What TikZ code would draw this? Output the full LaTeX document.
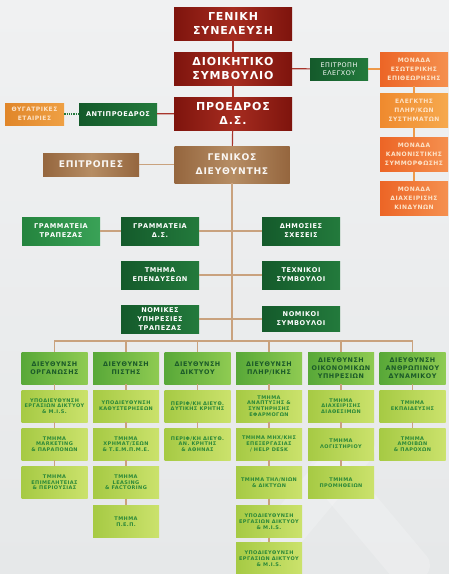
\documentclass[tikz,border=0pt]{standalone}
\usepackage{fontspec}
\setmainfont{DejaVu Sans}
\newfontfamily\wfont[LetterSpace=8]{DejaVu Sans}
\definecolor{redD}{HTML}{7E140D}
\definecolor{redL}{HTML}{A62C20}
\definecolor{tanD}{HTML}{95663E}
\definecolor{tanL}{HTML}{B68D64}
\definecolor{grD}{HTML}{145A2B}
\definecolor{grL}{HTML}{237A3C}
\definecolor{grTD}{HTML}{24843E}
\definecolor{grTL}{HTML}{3AA257}
\definecolor{orD}{HTML}{EC6526}
\definecolor{orL}{HTML}{F5904F}
\definecolor{orYD}{HTML}{EF8A2E}
\definecolor{orYL}{HTML}{F6A94E}
\definecolor{orTD}{HTML}{E0862A}
\definecolor{orTL}{HTML}{EFA044}
\definecolor{orText}{HTML}{FDE3C8}
\definecolor{hgD}{HTML}{58A838}
\definecolor{hgL}{HTML}{8FCB52}
\definecolor{limD}{HTML}{A6CA44}
\definecolor{limL}{HTML}{CBE26C}
\definecolor{hgText}{HTML}{1B5A29}
\definecolor{limText}{HTML}{2B8839}
\definecolor{bgA}{HTML}{F0F1F2}
\definecolor{bgB}{HTML}{E6E8E9}
\definecolor{lnRed}{HTML}{A8352C}
\definecolor{lnTan}{HTML}{C9A27E}
\definecolor{lnOr}{HTML}{EE9A4A}
\tikzset{
  x=1pt, y=-1pt,
  box/.style={inner sep=0pt, align=center},
  redbox/.style={box, minimum width=118pt, minimum height=33pt,
    left color=redD, right color=redD, middle color=redL, text=white,
    font=\wfont\bfseries\fontsize{11}{14.5}\selectfont},
  tanbox/.style={box, left color=tanD, right color=tanD, middle color=tanL,
    text=white!92!tanL, font=\wfont\bfseries\fontsize{9.2}{14}\selectfont},
  dgbox/.style={box, minimum width=78pt, minimum height=28pt,
    left color=grD, right color=grL, text=white,
    font=\wfont\bfseries\fontsize{6.6}{9}\selectfont},
  lgbox/.style={dgbox, left color=grTD, right color=grTL},
  orbox/.style={box, minimum width=68pt, minimum height=34pt,
    left color=orD, right color=orL, text=orText,
    font=\wfont\bfseries\fontsize{6}{9}\selectfont},
  oybox/.style={orbox, left color=orYD, right color=orYL},
  otbox/.style={orbox, minimum width=59pt, minimum height=22pt,
    left color=orTD, right color=orTL},
  hdbox/.style={box, minimum width=66pt, minimum height=32pt,
    left color=hgD, right color=hgL, text=hgText,
    font=\wfont\bfseries\fontsize{6.4}{8}\selectfont},
  lmbox/.style={box, minimum width=66pt, minimum height=32pt,
    left color=limD, right color=limL, text=limText,
    font=\wfont\bfseries\fontsize{5}{5.7}\selectfont},
  redln/.style={draw=lnRed, line width=1.2pt},
  tanln/.style={draw=lnTan, line width=1.1pt},
  orln/.style={draw=lnOr, line width=1.1pt},
}
\begin{document}
\begin{tikzpicture}
\useasboundingbox (0,0) rectangle (449,574);
\fill[top color=bgA, bottom color=bgB] (0,0) rectangle (449,574);
% faint watermark
\begin{scope}[white, opacity=0.2]
  \fill[rounded corners=14pt, rotate around={-40:(350,500)}] (300,440) rectangle (340,590);
  \fill[rounded corners=14pt, rotate around={40:(360,500)}] (335,440) rectangle (375,600);
\end{scope}

% top column
\node[redbox] (gs) at (233,23.5) {ΓΕΝΙΚΗ\\ΣΥΝΕΛΕΥΣΗ};
\node[redbox] (ds) at (233,68.5) {ΔΙΟΙΚΗΤΙΚΟ\\ΣΥΜΒΟΥΛΙΟ};
\node[redbox] (pr) at (233,113.5) {ΠΡΟΕΔΡΟΣ\\Δ.Σ.};
\node[tanbox, minimum width=115pt, minimum height=37pt] (gd) at (232,164.5) {ΓΕΝΙΚΟΣ\\ΔΙΕΥΘΥΝΤΗΣ};
\node[tanbox, minimum width=96pt, minimum height=23pt] (ep) at (91,164.5) {ΕΠΙΤΡΟΠΕΣ};

\node[dgbox, minimum width=58pt, minimum height=22pt, font=\wfont\fontsize{6.4}{8.5}\selectfont] (ee) at (339,69) {ΕΠΙΤΡΟΠΗ\\ΕΛΕΓΧΟΥ};
\node[orbox] (m1) at (414,69) {ΜΟΝΑΔΑ\\ΕΣΩΤΕΡΙΚΗΣ\\ΕΠΙΘΕΩΡΗΣΗΣ};
\node[oybox] (m2) at (414,110) {ΕΛΕΓΚΤΗΣ\\ΠΛΗΡ/ΚΩΝ\\ΣΥΣΤΗΜΑΤΩΝ};
\node[orbox] (m3) at (414,154.5) {ΜΟΝΑΔΑ\\ΚΑΝΟΝΙΣΤΙΚΗΣ\\ΣΥΜΜΟΡΦΩΣΗΣ};
\node[orbox] (m4) at (414,198) {ΜΟΝΑΔΑ\\ΔΙΑΧΕΙΡΙΣΗΣ\\ΚΙΝΔΥΝΩΝ};

\node[dgbox, minimum height=22pt] (av) at (118,114) {ΑΝΤΙΠΡΟΕΔΡΟΣ};
\node[otbox] (th) at (34.5,114) {ΘΥΓΑΤΡΙΚΕΣ\\ΕΤΑΙΡΙΕΣ};

% green staff boxes
\node[lgbox] (gt) at (61,231) {ΓΡΑΜΜΑΤΕΙΑ\\ΤΡΑΠΕΖΑΣ};
\node[dgbox] (gds) at (160,231) {ΓΡΑΜΜΑΤΕΙΑ\\Δ.Σ.};
\node[dgbox] (dh) at (301,231) {ΔΗΜΟΣΙΕΣ\\ΣΧΕΣΕΙΣ};
\node[dgbox] (te) at (160,275) {ΤΜΗΜΑ\\ΕΠΕΝΔΥΣΕΩΝ};
\node[dgbox] (ts) at (301,275) {ΤΕΧΝΙΚΟΙ\\ΣΥΜΒΟΥΛΟΙ};
\node[dgbox] (ny) at (160,319) {ΝΟΜΙΚΕΣ\\ΥΠΗΡΕΣΙΕΣ\\ΤΡΑΠΕΖΑΣ};
\node[dgbox, minimum height=25pt] (ns) at (301,319) {ΝΟΜΙΚΟΙ\\ΣΥΜΒΟΥΛΟΙ};

% columns
\node[hdbox] (h1) at (54.5,368) {ΔΙΕΥΘΥΝΣΗ\\ΟΡΓΑΝΩΣΗΣ};
\node[hdbox] (h2) at (126,368) {ΔΙΕΥΘΥΝΣΗ\\ΠΙΣΤΗΣ};
\node[hdbox] (h3) at (197.5,368) {ΔΙΕΥΘΥΝΣΗ\\ΔΙΚΤΥΟΥ};
\node[hdbox] (h4) at (269,368) {ΔΙΕΥΘΥΝΣΗ\\ΠΛΗΡ/ΙΚΗΣ};
\node[hdbox] (h5) at (341,368) {ΔΙΕΥΘΥΝΣΗ\\ΟΙΚΟΝΟΜΙΚΩΝ\\ΥΠΗΡΕΣΙΩΝ};
\node[hdbox] (h6) at (412.5,368) {ΔΙΕΥΘΥΝΣΗ\\ΑΝΘΡΩΠΙΝΟΥ\\ΔΥΝΑΜΙΚΟΥ};

\node[lmbox] (a2) at (54.5,406) {ΥΠΟΔΙΕΥΘΥΝΣΗ\\ΕΡΓΑΣΙΩΝ ΔΙΚΤΥΟΥ\\\& M.I.S.};
\node[lmbox] (a3) at (54.5,444) {ΤΜΗΜΑ\\MARKETING\\\& ΠΑΡΑΠΟΝΩΝ};
\node[lmbox] (a4) at (54.5,482.5) {ΤΜΗΜΑ\\ΕΠΙΜΕΛΗΤΕΙΑΣ\\\& ΠΕΡΙΟΥΣΙΑΣ};

\node[lmbox] (b2) at (126,406) {ΥΠΟΔΙΕΥΘΥΝΣΗ\\ΚΑΘΥΣΤΕΡΗΣΕΩΝ};
\node[lmbox] (b3) at (126,444) {ΤΜΗΜΑ\\ΧΡΗΜΑΤ/ΣΕΩΝ\\\& Τ.Ε.Μ.Π.Μ.Ε.};
\node[lmbox] (b4) at (126,482.5) {ΤΜΗΜΑ\\LEASING\\\& FACTORING};
\node[lmbox] (b5) at (126,521.5) {ΤΜΗΜΑ\\Π.Ε.Π.};

\node[lmbox] (c2) at (197.5,406) {ΠΕΡΙΦ/ΚΗ ΔΙΕΥΘ.\\ΔΥΤΙΚΗΣ ΚΡΗΤΗΣ};
\node[lmbox] (c3) at (197.5,444) {ΠΕΡΙΦ/ΚΗ ΔΙΕΥΘ.\\ΑΝ. ΚΡΗΤΗΣ\\\& ΑΘΗΝΑΣ};

\node[lmbox] (d2) at (269,406) {ΤΜΗΜΑ\\ΑΝΑΠΤΥΞΗΣ \&\\ΣΥΝΤΗΡΗΣΗΣ\\ΕΦΑΡΜΟΓΩΝ};
\node[lmbox] (d3) at (269,444) {ΤΜΗΜΑ ΜΗΧ/ΚΗΣ\\ΕΠΕΞΕΡΓΑΣΙΑΣ\\/ HELP DESK};
\node[lmbox] (d4) at (269,482.5) {ΤΜΗΜΑ ΤΗΛ/ΝΙΩΝ\\\& ΔΙΚΤΥΩΝ};
\node[lmbox] (d5) at (269,521.5) {ΥΠΟΔΙΕΥΘΥΝΣΗ\\ΕΡΓΑΣΙΩΝ ΔΙΚΤΥΟΥ\\\& M.I.S.};
\node[lmbox] (d6) at (269,558.5) {ΥΠΟΔΙΕΥΘΥΝΣΗ\\ΕΡΓΑΣΙΩΝ ΔΙΚΤΥΟΥ\\\& M.I.S.};

\node[lmbox] (e2) at (341,406) {ΤΜΗΜΑ\\ΔΙΑΧΕΙΡΙΣΗΣ\\ΔΙΑΘΕΣΙΜΩΝ};
\node[lmbox] (e3) at (341,444) {ΤΜΗΜΑ\\ΛΟΓΙΣΤΗΡΙΟΥ};
\node[lmbox] (e4) at (341,482.5) {ΤΜΗΜΑ\\ΠΡΟΜΗΘΕΙΩΝ};

\node[lmbox] (f2) at (412.5,406) {ΤΜΗΜΑ\\ΕΚΠΑΙΔΕΥΣΗΣ};
\node[lmbox] (f3) at (412.5,444) {ΤΜΗΜΑ\\ΑΜΟΙΒΩΝ\\\& ΠΑΡΟΧΩΝ};

\coordinate (bus) at (232,341);

% connectors
\draw[redln] (gs) -- (ds);
\draw[redln] (ds) -- (pr);
\draw[redln] (pr) -- (gd);
\draw[redln] (ds) -- (ee);
\draw[orln] (ee) -- (m1);
\draw[orln] (m1) -- (m2);
\draw[orln] (m2) -- (m3);
\draw[orln] (m3) -- (m4);
\draw[redln] (av) -- (pr);
\draw[draw=grL, line width=1.3pt, dash pattern=on 1.3pt off 1pt] (th) -- (av);
\draw[tanln] (ep) -- (gd);
\draw[tanln] (gd.south) -- (bus);
\draw[tanln] (gt) -- (gds);
\draw[tanln] (gds) -- (dh);
\draw[tanln] (te) -- (ts);
\draw[tanln] (ny) -- (ns);
\draw[tanln] (h1.north) -- (h1.north |- bus) -- (h6.north |- bus) -- (h6.north);
\foreach \h in {h2,h3,h4,h5} \draw[tanln] (\h.north) -- (\h.north |- bus);
\draw[tanln] (h1) -- (a2); \draw[tanln] (a2) -- (a3); \draw[tanln] (a3) -- (a4);
\draw[tanln] (h2) -- (b2); \draw[tanln] (b2) -- (b3); \draw[tanln] (b3) -- (b4); \draw[tanln] (b4) -- (b5);
\draw[tanln] (h3) -- (c2); \draw[tanln] (c2) -- (c3);
\draw[tanln] (h4) -- (d2); \draw[tanln] (d2) -- (d3); \draw[tanln] (d3) -- (d4); \draw[tanln] (d4) -- (d5); \draw[tanln] (d5) -- (d6);
\draw[tanln] (h5) -- (e2); \draw[tanln] (e2) -- (e3); \draw[tanln] (e3) -- (e4);
\draw[tanln] (h6) -- (f2); \draw[tanln] (f2) -- (f3);
\end{tikzpicture}
\end{document}
